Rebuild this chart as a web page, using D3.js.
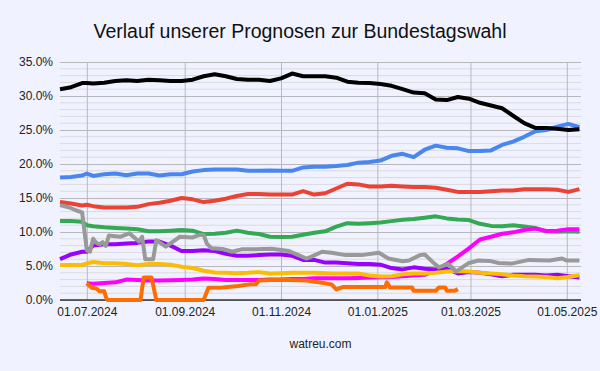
<!DOCTYPE html>
<html>
<head>
<meta charset="utf-8">
<title>Verlauf unserer Prognosen</title>
<script src="https://d3js.org/d3.v7.min.js"></script>
<style>
  body { margin: 0; background: #f0f3ff; }
  text { font-family: "Liberation Sans", Arial, sans-serif; }
</style>
</head>
<body>
<div id="chart"></div>
<script>
// weekly forecast dates (Jul 1 added as start of two series)
const dates = [
  "2024-06-14","2024-06-21","2024-06-28","2024-07-01","2024-07-05","2024-07-12","2024-07-19","2024-07-26",
  "2024-08-02","2024-08-09","2024-08-16","2024-08-23","2024-08-30","2024-09-06","2024-09-13","2024-09-20",
  "2024-09-27","2024-10-04","2024-10-11","2024-10-18","2024-10-25","2024-11-01","2024-11-08","2024-11-15",
  "2024-11-22","2024-11-29","2024-12-06","2024-12-13","2024-12-20","2024-12-27","2025-01-03","2025-01-10",
  "2025-01-17","2025-01-24","2025-01-31","2025-02-07","2025-02-14","2025-02-21","2025-02-28","2025-03-07",
  "2025-03-14","2025-03-21","2025-03-28","2025-04-04","2025-04-11","2025-04-18","2025-04-25","2025-05-02",
  "2025-05-09"
];

const black = [31.0,31.3,31.9,31.9,31.85,31.95,32.2,32.3,32.2,32.4,32.3,32.2,32.2,32.4,32.9,33.2,32.9,32.5,32.4,32.4,
  32.2,32.6,33.3,32.9,32.9,32.9,32.7,32.1,31.95,31.9,31.75,31.5,31.0,30.5,30.4,29.5,29.4,29.85,29.6,29.0,
  28.6,28.2,27.1,26.0,25.3,25.3,25.2,25.0,25.1];
const blue = [18.0,18.1,18.3,18.6,18.25,18.5,18.6,18.35,18.6,18.6,18.3,18.5,18.5,18.9,19.1,19.2,19.2,19.2,19.0,19.0,
  19.05,19.0,19.0,19.5,19.6,19.6,19.7,19.85,20.2,20.3,20.5,21.2,21.5,21.0,22.1,22.7,22.4,22.3,21.9,21.9,
  22.0,22.8,23.3,24.0,24.8,25.0,25.5,25.9,25.4];
const red = [14.4,14.2,13.9,14.0,13.8,13.6,13.6,13.6,13.7,14.1,14.3,14.6,15.0,14.8,14.4,14.6,14.9,15.3,15.6,15.6,
  15.5,15.5,15.5,16.0,15.5,15.7,16.4,17.1,17.0,16.7,16.7,16.8,16.7,16.6,16.6,16.5,16.2,15.9,15.9,15.9,
  16.0,16.1,16.1,16.3,16.3,16.3,16.2,15.9,16.3];
const green = [11.6,11.6,11.5,11.0,10.85,10.7,10.6,10.5,10.4,10.1,10.1,10.2,10.3,10.2,9.7,9.75,9.9,10.2,9.9,9.7,
  9.3,9.25,9.3,9.6,9.9,10.1,10.8,11.3,11.2,11.3,11.4,11.6,11.8,11.9,12.1,12.3,12.0,11.85,11.75,11.2,
  10.9,10.85,11.0,10.8,10.6,10.1,10.05,10.1,10.05];
const purple = [6.0,6.7,7.1,7.1,8.0,8.2,8.2,8.3,8.4,8.6,8.6,8.0,7.2,7.2,7.3,7.2,6.8,6.5,6.5,6.6,
  6.7,6.7,6.5,5.9,5.9,5.5,5.5,5.4,5.3,5.3,5.2,4.7,4.5,4.8,4.6,4.5,4.6,3.9,4.1,4.0,
  3.8,3.5,3.7,3.7,3.7,3.6,3.7,3.5,3.3];
const yellow = [5.15,5.15,5.15,5.4,5.6,5.4,5.4,5.3,5.1,5.3,5.3,5.2,4.9,4.7,4.3,4.05,4.0,3.95,4.0,4.1,
  3.9,3.95,4.0,4.0,4.0,3.95,3.9,3.9,3.9,3.6,3.45,3.5,3.8,3.9,3.9,4.0,4.2,4.25,4.2,4.0,
  3.9,3.8,3.6,3.5,3.45,3.4,3.2,3.4,3.65];
const magenta = [null,null,null,2.45,2.4,2.5,2.6,3.0,2.95,2.85,2.85,2.9,2.95,3.0,3.15,3.1,2.95,2.95,2.95,2.95,
  3.0,3.0,3.1,3.1,3.2,3.2,3.2,3.2,3.25,3.3,3.35,3.4,3.5,3.6,3.7,4.4,5.3,6.4,7.6,8.9,
  9.3,9.75,9.95,10.3,10.5,10.15,10.2,10.4,10.4];

// grey and orange move in jumps, so they keep their own dates
const greyDates = ["2024-06-14","2024-06-20","2024-06-24","2024-06-28","2024-07-01","2024-07-03","2024-07-05","2024-07-07",
  "2024-07-09","2024-07-11","2024-07-13","2024-07-15","2024-07-22","2024-07-28","2024-08-01","2024-08-03","2024-08-05",
  "2024-08-07","2024-08-12","2024-08-14","2024-08-20","2024-08-29","2024-09-06","2024-09-10","2024-09-13","2024-09-15",
  "2024-09-18","2024-09-25","2024-10-01","2024-10-07","2024-10-16","2024-10-26","2024-11-06","2024-11-12","2024-11-17",
  "2024-11-20","2024-11-27","2024-12-03","2024-12-12","2024-12-22","2025-01-02","2025-01-08","2025-01-17","2025-01-21",
  "2025-01-28","2025-01-31","2025-02-05","2025-02-09","2025-02-15","2025-02-20","2025-02-28","2025-03-06","2025-03-13",
  "2025-03-19","2025-03-27","2025-04-07","2025-04-20","2025-04-28","2025-05-01","2025-05-09"];
const grey = [13.95,13.6,13.2,12.9,7.3,7.1,9.0,8.4,8.2,8.5,7.95,9.5,9.3,9.8,9.0,8.6,9.3,
  6.0,6.0,8.8,7.85,9.3,9.2,9.55,9.55,8.3,7.6,7.5,7.1,7.45,7.45,7.55,7.2,6.6,6.1,
  6.35,7.1,6.95,6.6,6.6,6.95,6.1,5.7,5.8,6.6,6.7,5.6,4.8,5.3,4.2,5.45,5.8,5.75,
  5.45,5.35,5.9,5.8,6.1,5.8,5.8];

const orangeDates = ["2024-07-01","2024-07-04","2024-07-07","2024-07-09","2024-07-12","2024-07-13","2024-07-14",
  "2024-08-04","2024-08-06","2024-08-11","2024-08-14","2024-09-13","2024-09-16","2024-09-25","2024-10-05",
  "2024-10-12","2024-10-16","2024-10-18","2024-10-26","2024-11-06","2024-11-17","2024-11-27","2024-12-03",
  "2024-12-06","2024-12-10","2025-01-06","2025-01-07","2025-01-09","2025-01-23","2025-01-24","2025-02-07",
  "2025-02-09","2025-02-13","2025-02-14","2025-02-19","2025-02-21"];
const orange = [2.45,1.8,1.7,1.3,1.3,0.5,0,0,3.3,3.3,0,0,1.8,1.85,2.05,2.3,2.3,2.85,2.95,2.95,2.85,2.55,2.3,
  1.55,1.9,1.9,2.6,1.85,1.85,1.35,1.35,1.85,1.85,1.35,1.35,1.6];

const parse = d3.timeParse("%Y-%m-%d");
const pair = (ds, vs) => ds.map((d, i) => ({ date: parse(d), v: vs[i] }));

// drawing order, last on top
const series = [
  { color: "#4a86f0", values: pair(dates, blue) },
  { color: "#ea4335", values: pair(dates, red) },
  { color: "#34a853", values: pair(dates, green) },
  { color: "#ff00ff", values: pair(dates, magenta) },
  { color: "#9900ff", values: pair(dates, purple) },
  { color: "#fbbc04", values: pair(dates, yellow) },
  { color: "#999999", values: pair(greyDates, grey) },
  { color: "#ff6d01", values: pair(orangeDates, orange) },
  { color: "#000000", values: pair(dates, black) }
];

const W = 600, H = 371;
const margin = { top: 62, right: 19, bottom: 71, left: 60 };
const width = W - margin.left - margin.right;
const height = H - margin.top - margin.bottom;

const svg = d3.select("#chart").append("svg")
  .attr("width", W).attr("height", H);

svg.append("rect").attr("width", W).attr("height", H).attr("fill", "#f0f3ff");

// title
svg.append("text")
  .attr("x", W / 2).attr("y", 38)
  .attr("text-anchor", "middle")
  .attr("font-size", 19.5)
  .attr("fill", "#111")
  .text("Verlauf unserer Prognosen zur Bundestagswahl");

const g = svg.append("g").attr("transform", `translate(${margin.left},${margin.top})`);

const x = d3.scaleTime()
  .domain([parse("2024-06-14"), parse("2025-05-10")])
  .range([0, width]);

const y = d3.scaleLinear()
  .domain([0, 35])
  .range([height, 0]);

// minor horizontal grid every 1%
g.append("g")
  .selectAll("line")
  .data(d3.range(1, 36).filter(d => d % 5 !== 0))
  .join("line")
    .attr("x1", 0).attr("x2", width)
    .attr("y1", d => y(d)).attr("y2", d => y(d))
    .attr("stroke", "#dadade");

// major horizontal grid + labels
const yAxis = g.append("g")
  .call(d3.axisLeft(y).tickValues(d3.range(0, 36, 5)).tickSize(-width).tickPadding(7)
    .tickFormat(d => d.toFixed(1) + "%"));
yAxis.select(".domain").remove();
yAxis.selectAll("line").attr("stroke", "#b8b8bc");
yAxis.selectAll("text").attr("font-size", 12).attr("fill", "#222")
  .style("font-family", "Liberation Sans, Arial, sans-serif");

// vertical grid at every second month
const xAxis = g.append("g")
  .attr("transform", `translate(0,${height})`)
  .call(d3.axisBottom(x).ticks(d3.timeMonth.every(2)).tickSize(-height).tickPadding(7)
    .tickFormat(d3.timeFormat("%d.%m.%Y")));
xAxis.select(".domain").remove();
xAxis.selectAll("line").attr("stroke", "#b8b8bc");
xAxis.selectAll("text").attr("font-size", 12).attr("fill", "#222")
  .style("font-family", "Liberation Sans, Arial, sans-serif");

// baseline
g.append("line")
  .attr("x1", 0).attr("x2", width)
  .attr("y1", height).attr("y2", height)
  .attr("stroke", "#333").attr("stroke-width", 1.5);

const line = d3.line()
  .defined(d => d.v != null)
  .x(d => x(d.date))
  .y(d => y(d.v));

g.selectAll("path.series")
  .data(series)
  .join("path")
    .attr("class", "series")
    .attr("fill", "none")
    .attr("stroke", d => d.color)
    .attr("stroke-width", 4)
    .attr("stroke-linejoin", "round")
    .attr("d", d => line(d.values));

// footer
svg.append("text")
  .attr("x", margin.left + width / 2).attr("y", 348)
  .attr("text-anchor", "middle")
  .attr("font-size", 12)
  .attr("fill", "#222")
  .text("watreu.com");
</script>
</body>
</html>
